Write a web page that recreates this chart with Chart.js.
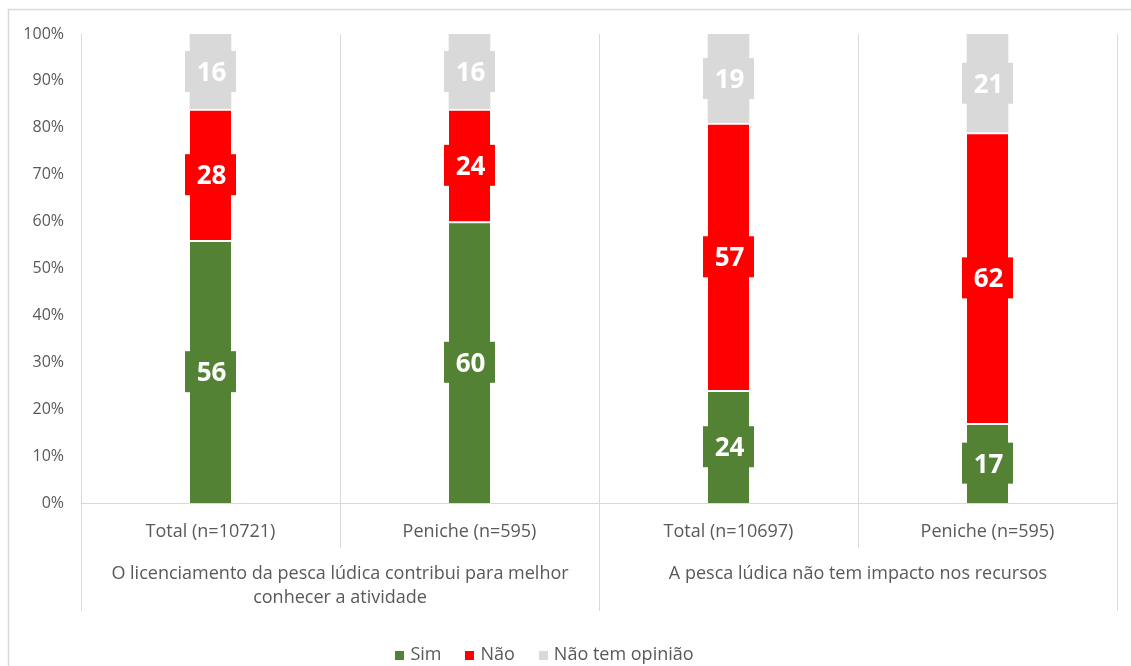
<!DOCTYPE html>
<html>
<head>
<meta charset="utf-8">
<script src="https://cdn.jsdelivr.net/npm/chart.js@4/dist/chart.umd.min.js"></script>
<style>
  html, body { margin: 0; padding: 0; background: #fff; }
  #wrap { width: 1131px; height: 666px; position: relative; }
  canvas { display: block; }
</style>
</head>
<body>
<div id="wrap"><canvas id="chart" width="1131" height="666"></canvas></div>
<script>
// Chart data
const categories = ['Total (n=10721)', 'Peniche (n=595)', 'Total (n=10697)', 'Peniche (n=595)'];
const groupLabels = [
  ['O licenciamento da pesca lúdica contribui para melhor', 'conhecer a atividade'],
  ['A pesca lúdica não tem impacto nos recursos']
];
const groupSizes = [2, 2];
const simValues = [56, 60, 24, 17];
const naoValues = [28, 24, 57, 62];
const semOpiniaoValues = [16, 16, 19, 21];
const seriesNames = ['Sim', 'Não', 'Não tem opinião'];

const FONT = '"Open Sans", "Noto Sans", sans-serif';
const TEXT_COLOR = '#595959';
const LINE_COLOR = '#d9d9d9';

Chart.defaults.font.family = FONT;
Chart.defaults.color = TEXT_COLOR;

/**
 * Outer frame like the Excel chart area
 */
const framePlugin = {
  id: 'frame',
  beforeDraw(chart) {
    const ctx = chart.ctx;
    ctx.save();
    ctx.fillStyle = '#fff';
    ctx.fillRect(0, 0, chart.width, chart.height);
    ctx.strokeStyle = LINE_COLOR;
    ctx.lineWidth = 1.5;
    ctx.strokeRect(8.5, 9.5, chart.width + 20, chart.height + 20);
    ctx.restore();
  }
};

/**
 * Value labels in a box of the segment colour
 */
const boxLabelPlugin = {
  id: 'boxLabels',
  afterDatasetsDraw(chart) {
    const ctx = chart.ctx;
    ctx.save();
    ctx.font = 'bold 26px ' + FONT;
    ctx.textAlign = 'center';
    ctx.textBaseline = 'middle';
    chart.data.datasets.forEach((ds, i) => {
      const meta = chart.getDatasetMeta(i);
      meta.data.forEach((bar, j) => {
        const p = bar.getProps(['x', 'y', 'base', 'width'], true);
        const cy = (p.y + p.base) / 2;
        const w = p.width + 10;
        const h = 41;
        ctx.fillStyle = ds.backgroundColor;
        ctx.fillRect(p.x - w / 2, cy - h / 2, w, h);
        ctx.fillStyle = '#fff';
        ctx.fillText(String(ds.data[j]), p.x + 1, cy + 2);
      });
    });
    ctx.restore();
  }
};

/**
 * Second level of category labels with separator lines
 */
const groupAxisPlugin = {
  id: 'groupAxis',
  afterDraw(chart) {
    const ctx = chart.ctx;
    const x = chart.scales.x;
    const bottom = chart.chartArea.bottom;
    const half = (x.getPixelForValue(1) - x.getPixelForValue(0)) / 2;
    ctx.save();
    ctx.strokeStyle = LINE_COLOR;
    ctx.lineWidth = 1;
    // short separators between categories inside a group, long ones between groups
    let idx = 0;
    const boundaries = [x.left];
    groupSizes.forEach(n => {
      for (let k = 1; k < n; k++) {
        const px = Math.round(x.getPixelForValue(idx + k) - half) + 0.5;
        ctx.beginPath();
        ctx.moveTo(px, bottom);
        ctx.lineTo(px, bottom + 45);
        ctx.stroke();
      }
      idx += n;
      boundaries.push(idx < categories.length ? x.getPixelForValue(idx) - half : x.right);
    });
    boundaries.forEach(b => {
      const px = Math.round(b) + 0.5;
      ctx.beginPath();
      ctx.moveTo(px, bottom);
      ctx.lineTo(px, bottom + 108);
      ctx.stroke();
    });
    // group captions
    ctx.font = '18px ' + FONT;
    ctx.fillStyle = TEXT_COLOR;
    ctx.textAlign = 'center';
    ctx.textBaseline = 'middle';
    groupLabels.forEach((lines, g) => {
      const cx = (boundaries[g] + boundaries[g + 1]) / 2;
      lines.forEach((line, l) => {
        ctx.fillText(line, cx, bottom + 71 + l * 24);
      });
    });
    ctx.restore();
  }
};

/**
 * Legend row under the axis (Excel style, small squares)
 */
const legendPlugin = {
  id: 'bottomLegend',
  afterDraw(chart) {
    const ctx = chart.ctx;
    const box = 9, gapText = 6, gapItem = 24;
    const y = 655;
    ctx.save();
    ctx.font = '18px ' + FONT;
    ctx.textBaseline = 'middle';
    ctx.textAlign = 'left';
    const items = chart.data.datasets.map(ds => ({
      text: ds.label,
      color: ds.backgroundColor,
      w: box + gapText + ctx.measureText(ds.label).width
    }));
    const total = items.reduce((s, it) => s + it.w, 0) + gapItem * (items.length - 1);
    let cx = (chart.width - total) / 2 - 21;
    items.forEach(it => {
      ctx.fillStyle = it.color;
      ctx.fillRect(Math.round(cx), y - 4, box, box);
      ctx.fillStyle = TEXT_COLOR;
      ctx.fillText(it.text, cx + box + gapText, y);
      cx += it.w + gapItem;
    });
    ctx.restore();
  }
};

new Chart(document.getElementById('chart'), {
  type: 'bar',
  data: {
    labels: categories,
    datasets: [
      {
        label: seriesNames[0],
        data: simValues,
        backgroundColor: '#548235',
        borderColor: '#ffffff',
        borderWidth: { top: 2, bottom: 0, left: 0, right: 0 },
        borderSkipped: false
      },
      {
        label: seriesNames[1],
        data: naoValues,
        backgroundColor: '#ff0000',
        borderColor: '#ffffff',
        borderWidth: { top: 2, bottom: 0, left: 0, right: 0 },
        borderSkipped: false
      },
      {
        label: seriesNames[2],
        data: semOpiniaoValues,
        backgroundColor: '#d9d9d9',
        borderWidth: 0
      }
    ]
  },
  options: {
    responsive: false,
    animation: false,
    devicePixelRatio: 1,
    barThickness: 41,
    layout: { padding: { top: 34, right: 14, bottom: 0, left: 0 } },
    plugins: {
      legend: { display: false },
      tooltip: { enabled: false }
    },
    scales: {
      x: {
        stacked: true,
        grid: { display: true, offset: true, color: LINE_COLOR, drawTicks: false },
        border: { display: true, color: LINE_COLOR },
        ticks: { padding: 18, color: TEXT_COLOR, font: { size: 18 }, maxRotation: 0 },
        afterFit(scale) { scale.height = 163; }
      },
      y: {
        stacked: true,
        min: 0,
        max: 100,
        grid: { display: false, drawTicks: false },
        border: { display: false },
        ticks: {
          stepSize: 10,
          padding: 17,
          color: TEXT_COLOR,
          font: { size: 16 },
          callback: v => v + '%'
        },
        afterFit(scale) { scale.width = 81; }
      }
    }
  },
  plugins: [framePlugin, boxLabelPlugin, groupAxisPlugin, legendPlugin]
});
</script>
</body>
</html>
